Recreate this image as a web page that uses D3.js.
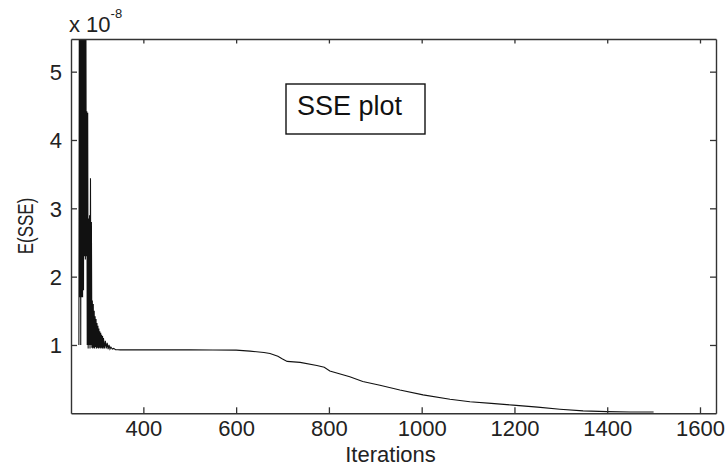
<!DOCTYPE html>
<html>
<head>
<meta charset="utf-8">
<script src="https://cdn.jsdelivr.net/npm/d3@7"></script>
<style>
  html, body { margin: 0; padding: 0; background: #fff; }
  svg { display: block; font-family: "Liberation Sans", Arial, sans-serif; }
</style>
</head>
<body>
<svg id="chart" width="726" height="468"></svg>
<script>
// ---- data (SSE in units of 1e-8) ----
const iterations = [
  261,262,263,264,265,266,267,268,269,270,271,272,273,274,275,276,277,278,279,280,
  281,282,283,284,285,286,287,288,289,290,291,292,293,294,295,296,297,298,299,300,301,302,
  303,304,305,306,307,308,309,310,311,312,313,314,316,318,320,322,324,326,328,330,333,336,
  340,345,350,400,450,500,550,600,630,660,673,690,700,710,738,774,790,802,845,873,910,953,1003,
  1061,1104,1150,1197,1250,1298,1348,1400,1450,1500
];
const sse = [
  1.00,6.50,1.70,6.50,1.00,6.50,1.70,6.50,1.70,6.50,1.80,6.50,2.30,6.50,2.25,6.50,2.30,4.42,1.00,4.40,
  0.95,2.85,1.00,2.90,0.95,3.44,1.00,2.80,0.96,1.65,0.95,1.60,0.96,1.50,0.95,1.42,0.97,1.38,0.95,1.32,0.96,1.28,
  0.95,1.24,0.96,1.20,0.95,1.18,0.96,1.15,0.95,1.13,0.95,1.10,0.95,1.06,0.95,1.03,0.94,1.00,0.94,0.97,0.94,0.95,
  0.93,0.93,0.928,0.928,0.928,0.928,0.927,0.925,0.91,0.89,0.875,0.835,0.795,0.76,0.745,0.70,0.675,0.62,0.535,0.465,0.41,0.34,0.27,
  0.205,0.17,0.145,0.12,0.09,0.06,0.035,0.025,0.02,0.02
];
const xTicks = [400, 600, 800, 1000, 1200, 1400, 1600];
const yTicks = [1, 2, 3, 4, 5];
const xDomain = [244, 1634.5];
const yDomain = [0, 5.478];
const xLabel = "Iterations";
const yLabel = "E(SSE)";
const titleText = "SSE plot";

// ---- layout ----
const svg = d3.select("#chart");
const L = 71, R = 716, T = 39, B = 413.3;
const x = d3.scaleLinear().domain(xDomain).range([L, R]);
const y = d3.scaleLinear().domain(yDomain).range([B, T]);
const axisColor = "#333";

svg.append("defs").append("clipPath").attr("id", "clip")
  .append("rect").attr("x", L).attr("y", T).attr("width", R - L).attr("height", B - T);

// data line
const pts = iterations.map((d, i) => [d, sse[i]]);
svg.append("path")
  .datum(pts)
  .attr("clip-path", "url(#clip)")
  .attr("fill", "none")
  .attr("stroke", "#111")
  .attr("stroke-width", 1.1)
  .attr("d", d3.line().x(d => x(d[0])).y(d => y(d[1])));

// axes (MATLAB style: ticks inside, box)
const tickLen = 6;
const gB = svg.append("g").attr("transform", `translate(0,${B})`)
  .call(d3.axisBottom(x).tickValues(xTicks).tickSizeInner(-tickLen).tickSizeOuter(0).tickPadding(10).tickFormat(d3.format("d")));
const gT = svg.append("g").attr("transform", `translate(0,${T})`)
  .call(d3.axisTop(x).tickValues(xTicks).tickSizeInner(-4.5).tickSizeOuter(0).tickFormat(""));
const gL = svg.append("g").attr("transform", `translate(${L},0)`)
  .call(d3.axisLeft(y).tickValues(yTicks).tickSizeInner(-tickLen).tickSizeOuter(0).tickPadding(15).tickFormat(d3.format("d")));
const gR = svg.append("g").attr("transform", `translate(${R},0)`)
  .call(d3.axisRight(y).tickValues(yTicks).tickSizeInner(-tickLen).tickSizeOuter(0).tickFormat(""));

[gB, gT, gL, gR].forEach(g => {
  g.select(".domain").attr("stroke", axisColor).attr("stroke-width", 1.4);
  g.selectAll(".tick line").attr("stroke", axisColor).attr("stroke-width", 1.3);
  g.selectAll(".tick text").attr("fill", "#222").style("font-size", "22px")
    .style("font-family", "'Liberation Sans', Arial, sans-serif");
});
gB.selectAll(".tick text").attr("dy", "0.71em").attr("y", 7);
gL.selectAll(".tick text").attr("x", -9).attr("dy", "0.36em");

// axis labels
svg.append("text").attr("x", (L + R) / 2 - 3).attr("y", 462)
  .attr("text-anchor", "middle").attr("fill", "#222")
  .style("font-size", "22px").text(xLabel);
svg.append("text")
  .attr("transform", "translate(33,226) rotate(-90) scale(1,1.3)")
  .attr("text-anchor", "middle").attr("fill", "#222")
  .style("font-size", "17px").text(yLabel);

// exponent
const ex = svg.append("text").attr("x", 69).attr("y", 32).attr("fill", "#222").style("font-size", "22px");
ex.append("tspan").text("x 10");
ex.append("tspan").attr("dy", -14).style("font-size", "13px").text("-8");

// title box
svg.append("rect").attr("x", 286).attr("y", 84).attr("width", 139).attr("height", 50)
  .attr("fill", "#fff").attr("stroke", "#111").attr("stroke-width", 1.4);
svg.append("text").attr("x", 297).attr("y", 115).attr("fill", "#111")
  .style("font-size", "27px").text(titleText);
</script>
</body>
</html>
